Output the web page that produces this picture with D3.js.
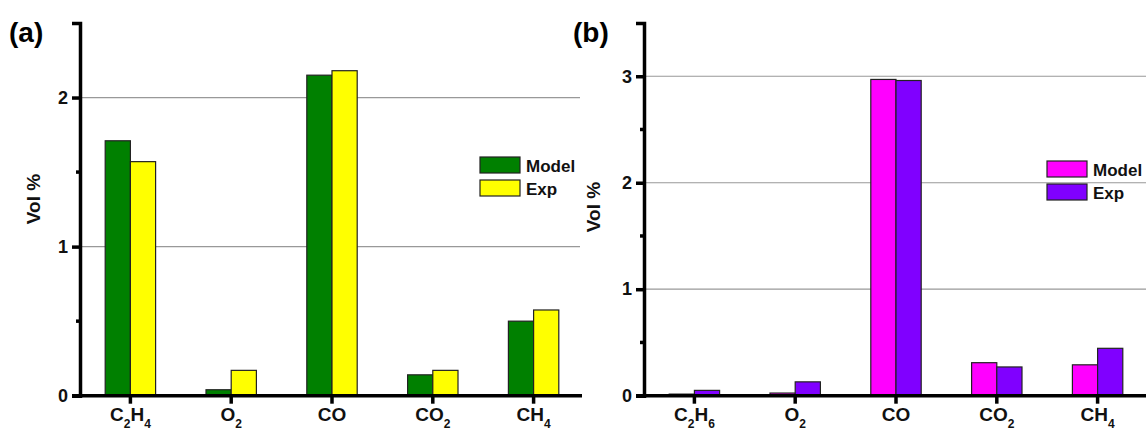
<!DOCTYPE html>
<html>
<head>
<meta charset="utf-8">
<script src="https://cdn.jsdelivr.net/npm/d3@7"></script>
<style>
  body { margin: 0; background: #fff; }
  text { font-family: "Liberation Sans", Arial, sans-serif; font-weight: 700; }
</style>
</head>
<body>
<svg id="chart" width="1146" height="438"></svg>
<script>
// panel (a)
var catsA = ["C2H4", "O2", "CO", "CO2", "CH4"];
var modelA = [1.71, 0.04, 2.15, 0.14, 0.50];
var expA = [1.57, 0.17, 2.18, 0.17, 0.575];
var ticksA = [0, 1, 2];

// panel (b)
var catsB = ["C2H6", "O2", "CO", "CO2", "CH4"];
var modelB = [0.015, 0.025, 2.97, 0.31, 0.29];
var expB = [0.05, 0.13, 2.96, 0.27, 0.445];
var ticksB = [0, 1, 2, 3];

var seriesNames = ["Model", "Exp"];

var svg = d3.select("#chart");

function drawPanel(opt) {
	var x = d3.scaleBand().domain(opt.cats).range([opt.left, opt.left + 504]).paddingInner(0.5).paddingOuter(0.25);
	var y = d3.scaleLinear().domain([0, opt.max]).range([395.7, 23]);
	var sub = d3.scaleBand().domain(seriesNames).range([0, x.bandwidth()]);
	var g = svg.append("g");

	// gridlines at major ticks
	g.selectAll(".grid").data(opt.ticks.filter(function(d){ return d > 0; }))
		.enter().append("line")
		.attr("x1", opt.left).attr("x2", opt.gridEnd)
		.attr("y1", function(d){ return y(d); }).attr("y2", function(d){ return y(d); })
		.attr("stroke", "#999").attr("stroke-width", 1.2);

	// bars
	var groups = g.selectAll(".cat").data(opt.cats).enter().append("g")
		.attr("transform", function(d){ return "translate(" + x(d) + ",0)"; });
	groups.each(function(c, i){
		var vals = [opt.model[i], opt.exp[i]];
		d3.select(this).selectAll("rect").data(vals).enter().append("rect")
			.attr("x", function(d, j){ return sub(seriesNames[j]); })
			.attr("width", sub.bandwidth())
			.attr("y", function(d){ return y(d); })
			.attr("height", function(d){ return y(0) - y(d); })
			.attr("fill", function(d, j){ return opt.colors[j]; })
			.attr("stroke", "#222").attr("stroke-width", 1.2);
	});

	// y axis: major ticks with labels, minor ticks at halves
	var yAxis = d3.axisLeft(y).tickValues(opt.ticks).tickSize(8).tickPadding(4).tickFormat(d3.format("d"));
	var ya = g.append("g").attr("transform", "translate(" + opt.left + ",0)").call(yAxis);
	ya.attr("font-family", null).attr("font-size", null);
	ya.select(".domain").attr("stroke", "#000").attr("stroke-width", 3.5);
	ya.selectAll(".tick line").attr("stroke", "#000").attr("stroke-width", 3.5);
	ya.selectAll(".tick text").attr("font-size", 18).attr("fill", "#111");
	var minor = d3.range(0.5, opt.max, 1);
	g.selectAll(".minor").data(minor).enter().append("line")
		.attr("x1", opt.left - 4).attr("x2", opt.left)
		.attr("y1", function(d){ return y(d); }).attr("y2", function(d){ return y(d); })
		.attr("stroke", "#000").attr("stroke-width", 3.5);

	// x axis
	g.append("line").attr("x1", opt.left - 8).attr("x2", opt.axisEnd)
		.attr("y1", y(0)).attr("y2", y(0)).attr("stroke", "#000").attr("stroke-width", 3.5);
	g.selectAll(".xt").data(opt.cats).enter().append("line")
		.attr("x1", function(d){ return x(d) + x.bandwidth() / 2; })
		.attr("x2", function(d){ return x(d) + x.bandwidth() / 2; })
		.attr("y1", y(0)).attr("y2", y(0) + 8)
		.attr("stroke", "#000").attr("stroke-width", 3.5);

	// category labels with subscripts
	g.selectAll(".xl").data(opt.cats).enter().append("text")
		.attr("x", function(d){ return x(d) + x.bandwidth() / 2; })
		.attr("y", 428)
		.attr("text-anchor", "middle")
		.attr("font-size", 19)
		.attr("fill", "#111")
		.each(function(d){
			var t = d3.select(this);
			d.split(/(\d)/).filter(function(s){ return s.length; }).forEach(function(s){
				if (/\d/.test(s)) {
					t.append("tspan").text(s).attr("font-size", 12).attr("dy", 7);
				} else {
					t.append("tspan").text(s).attr("dy", t.selectAll("tspan").size() ? -7 : 0);
				}
			});
		});

	// axis title
	svg.append("text")
		.attr("transform", "translate(" + opt.titleX + "," + opt.titleY + ") rotate(-90)")
		.attr("text-anchor", "middle").attr("font-size", 19).attr("fill", "#111")
		.text("Vol %");

	// panel letter
	svg.append("text").attr("x", opt.letterX).attr("y", 42)
		.attr("font-size", 28).attr("fill", "#000").text(opt.letter);

	// legend
	var lg = svg.append("g").attr("transform", "translate(" + opt.legX + "," + opt.legY + ")");
	seriesNames.forEach(function(s, j){
		lg.append("rect").attr("x", 0).attr("y", j * 23).attr("width", 40).attr("height", 16)
			.attr("fill", opt.colors[j]).attr("stroke", "#222").attr("stroke-width", 1.2);
		lg.append("text").attr("x", 46).attr("y", j * 23 + 15).attr("font-size", 17)
			.attr("fill", "#111").text(s);
	});
}

drawPanel({cats: catsA, model: modelA, exp: expA, ticks: ticksA, max: 2.5, left: 80,
	gridEnd: 580, axisEnd: 582, colors: ["#008000", "#ffff00"],
	titleX: 40, titleY: 199, letter: "(a)", letterX: 9, legX: 480, legY: 157});

drawPanel({cats: catsB, model: modelB, exp: expB, ticks: ticksB, max: 3.5, left: 644,
	gridEnd: 1146, axisEnd: 1146, colors: ["#ff00ff", "#8000ff"],
	titleX: 600, titleY: 207, letter: "(b)", letterX: 573, legX: 1047, legY: 161});
</script>
</body>
</html>
